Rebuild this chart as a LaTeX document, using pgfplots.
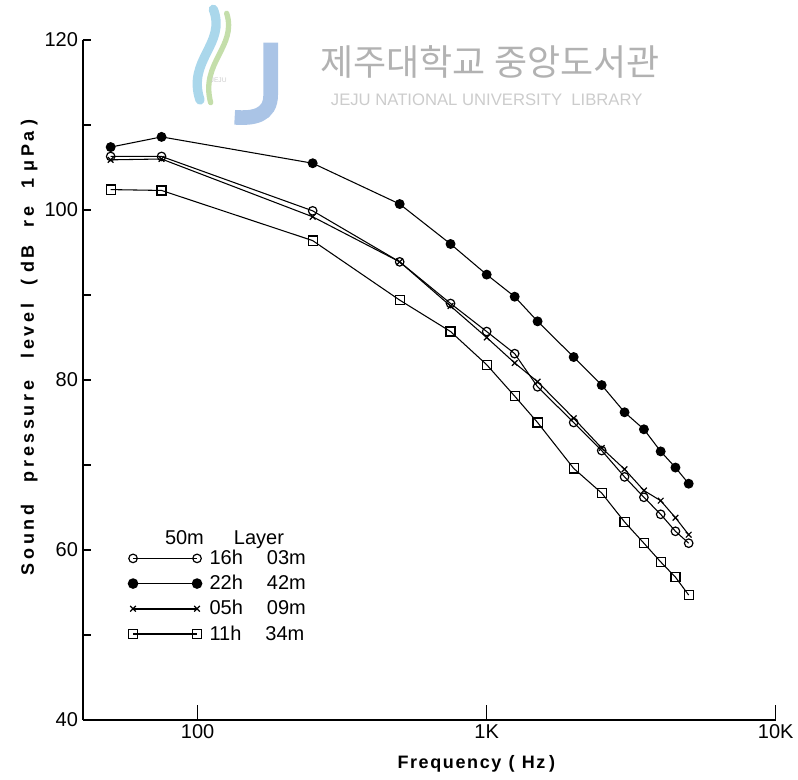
\documentclass[border=0pt]{standalone}
\usepackage{fontspec}
\setmainfont{Liberation Sans}
\newfontfamily\cjk{Noto Sans CJK KR}
\newfontfamily\spaced[LetterSpace=20]{Liberation Sans}
\newfontfamily\spacedx[LetterSpace=9]{Liberation Sans}
\usepackage{pgfplots}
\pgfplotsset{compat=1.18}
\definecolor{wmgray}{gray}{0.70}
\definecolor{wmlight}{gray}{0.80}
\definecolor{jblue}{RGB}{170,196,230}
\definecolor{jgreen}{RGB}{196,222,170}
\definecolor{jsky}{RGB}{170,215,235}

\pgfplotstableread{
f     a      b      c      d
50    106.3  107.4  105.9  102.4
75    106.3  108.6  106.0  102.3
250   99.9   105.5  99.2   96.4
500   93.9   100.7  93.9   89.4
750   89.0   96.0   88.7   85.7
1000  85.7   92.4   85.0   81.8
1250  83.1   89.8   82.0   78.1
1500  79.2   86.9   79.8   75.0
2000  75.0   82.7   75.5   69.6
2500  71.7   79.4   72.0   66.7
3000  68.6   76.2   69.5   63.3
3500  66.2   74.2   67.0   60.8
4000  64.2   71.6   65.8   58.6
4500  62.2   69.7   63.8   56.8
5000  60.8   67.8   61.8   54.7
}\data

\begin{document}
\begin{tikzpicture}
\path[use as bounding box] (0,0) rectangle (598.5pt,585pt);
% watermark logo (approximate)
\draw[line width=7pt, jsky, line cap=round] (150pt,510pt) .. controls (140pt,540pt) and (170pt,552pt) .. (160pt,578pt);
\draw[line width=4pt, jgreen, line cap=round] (158pt,508pt) .. controls (150pt,538pt) and (178pt,550pt) .. (170pt,575pt);
\draw[line width=11pt, jblue] (203pt,553pt) -- (203pt,514pt) .. controls (203pt,498pt) and (190pt,496pt) .. (176pt,497pt);
\node[wmlight, font=\fontsize{5}{6}\selectfont] at (164pt,525pt) {JEJU};
\node[wmgray, font=\cjk\fontsize{27}{30}\selectfont] at (367.5pt,538.5pt) {제주대학교 중앙도서관};
\node[wmlight, font=\fontsize{12.5}{14}\selectfont] at (365pt,510pt) {JEJU NATIONAL UNIVERSITY\ \ LIBRARY};

\begin{axis}[
  at={(62pt,45pt)}, anchor=south west,
  scale only axis, width=519.75pt, height=510pt,
  xmode=log, xmin=40, xmax=10000, ymin=40, ymax=120,
  axis x line=bottom, axis y line=left,
  axis line style={-, line width=1.3pt},
  tick align=inside,
  xtick=\empty,
  minor xtick={50,60,70,80,90,200,300,400,500,600,700,800,900,2000,3000,4000,5000,6000,7000,8000,9000},
  extra x ticks={100,1000,10000},
  extra x tick labels={100,1K,10K},
  extra x tick style={major tick length=11pt},
  ytick={40,50,...,120},
  yticklabels={40,,60,,80,,100,,120},
  major tick length=6pt,
  minor tick length=4.5pt,
  every tick/.style={black, line width=1pt},
  tick label style={font=\fontsize{15}{18}\selectfont},
  xlabel={\spacedx\bfseries Frequency\hspace{0.4em}(\hspace{0.4em}Hz\hspace{0.2em})},
  ylabel={\spaced\bfseries Sound\hspace{1.25em}pressure\hspace{1.25em}level\hspace{1em}(\hspace{0.4em}dB\hspace{1em}re\hspace{1em}1\hspace{0.4em}μPa\hspace{0.3em})},
  every axis x label/.style={at={(rel axis cs:0.568,0)}, anchor=center, yshift=-33pt, font=\fontsize{13.5}{15}\selectfont},
  every axis y label/.style={at={(rel axis cs:0,0.548)}, anchor=center, xshift=-40pt, rotate=90, font=\fontsize{13.5}{15}\selectfont},
  legend style={at={(rel axis cs:0.06,0.258)}, anchor=north west, draw=none, fill=none,
    font=\fontsize{15}{18}\selectfont, cells={anchor=west}, row sep=2.5pt, column sep=4pt},
  legend image code/.code={\draw[mark repeat=2,mark phase=1,#1,line width=1.3pt] plot coordinates {(0pt,0pt) (24pt,0pt) (48pt,0pt)};},
  every axis plot/.append style={black, line width=0.8pt},
  clip=false,
]
\addplot[mark=o, mark size=3.2pt, mark options={solid, fill=white, line width=0.9pt}] table[x=f,y=a] {\data};
\addlegendentry{16h\hspace{1.2em}03m}
\addplot[mark=*, mark size=3.3pt, mark options={solid, fill=black}] table[x=f,y=b] {\data};
\addlegendentry{22h\hspace{1.2em}42m}
\addplot[mark=x, mark size=3pt, mark options={solid, line width=0.9pt}] table[x=f,y=c] {\data};
\addlegendentry{05h\hspace{1.2em}09m}
\addplot[mark=square, mark size=3.4pt, mark options={solid, fill=white, line width=0.9pt}] table[x=f,y=d] {\data};
\addlegendentry{11h\hspace{1.2em}34m}
\node[anchor=west, font=\fontsize{15}{18}\selectfont] at (rel axis cs:0.112,0.266) {50m\hspace{1.5em}Layer};
\end{axis}
\end{tikzpicture}
\end{document}
